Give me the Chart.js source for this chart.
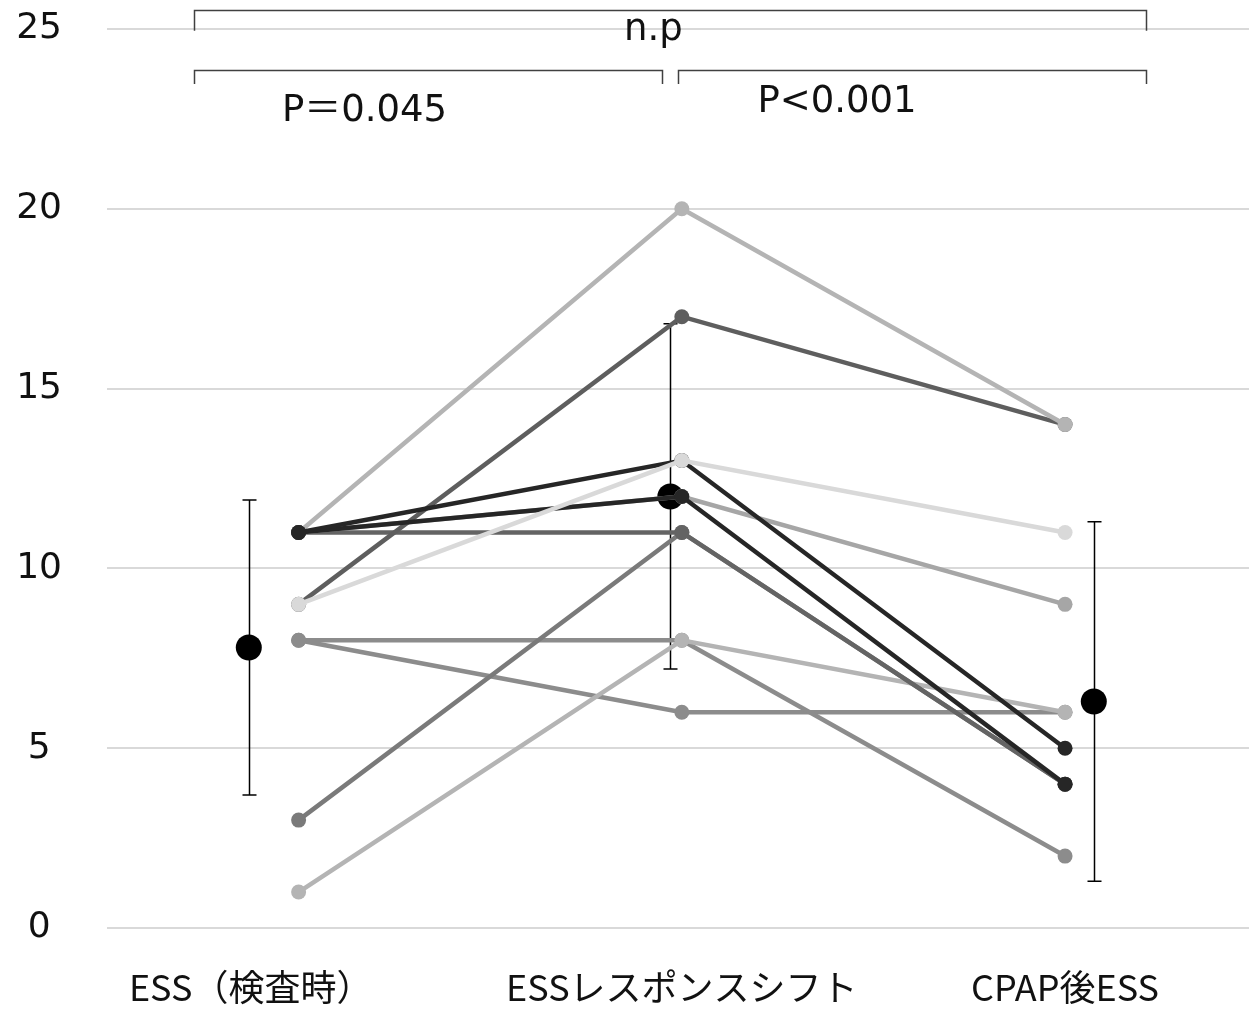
<!DOCTYPE html>
<html lang="ja">
<head>
<meta charset="utf-8">
<script src="https://cdn.jsdelivr.net/npm/chart.js@4.4.1/dist/chart.umd.min.js"></script>
<style>
  html, body { margin:0; padding:0; background:#fff; overflow:hidden; }
  canvas { display:block; }
</style>
</head>
<body>
<canvas id="c" width="1249" height="1017"></canvas>
<script>
// ── data ───────────────────────────────────────────────────
const categories = ['ESS（検査時）', 'ESSレスポンスシフト', 'CPAP後ESS'];
const yTicks = [0, 5, 10, 15, 20, 25];

// one array per patient: [検査時, レスポンスシフト, CPAP後]
const ptA = [11, 20, 14];
const ptB = [9, 17, 14];
const ptC = [11, 13, 5];
const ptD = [9, 13, 11];
const ptE = [11, 12, 4];
const ptF = [11, 11, 4];
const ptG = [3, 11, 4];
const ptH = [8, 8, 2];
const ptI = [8, 6, 6];
const ptJ = [1, 8, 6];
const ptK = [11, 12, 9];

// mean ± SD per column
const meanVals = [7.8, 12.0, 6.3];
const sdVals   = [4.1, 4.8, 5.0];

const pLabels = ['n.p', 'P＝0.045', 'P<0.001'];

// ── styling ────────────────────────────────────────────────
const FONT = "'Noto Sans CJK JP', 'Noto Sans', sans-serif";
const NUM_FONT = "'DejaVu Sans', 'Noto Sans CJK JP', sans-serif";
const TEXT = '#111';

// drawn bottom → top
const patients = [
  { v: ptI, color: '#8c8c8c' },
  { v: ptH, color: '#8c8c8c' },
  { v: ptJ, color: '#b4b4b4' },
  { v: ptG, color: '#7a7a7a' },
  { v: ptF, color: '#646464' },
  { v: ptK, color: '#a6a6a6' },
  { v: ptB, color: '#5e5e5e' },
  { v: ptA, color: '#b4b4b4' },
  { v: ptE, color: '#262626' },
  { v: ptC, color: '#262626' },
  { v: ptD, color: '#d9d9d9' },
];

// means sit a little beside each column
const MEAN_X = [-0.13, 0.97, 2.075];
const CAP = 7;
// where the category captions are centred (first one sits left of its column)
const LABEL_X = [-0.125, 1.0, 2.0];

// significance brackets (x in column units, y in score units)
const BRACKETS = [
  { x0: -0.274, x1: 2.211, y: 25.53, y2: 24.95 },
  { x0: -0.274, x1: 0.949, y: 23.86, y2: 23.47 },
  { x0: 0.991,  x1: 2.211, y: 23.86, y2: 23.47 },
];
const NOTES = [
  { text: pLabels[0], x: 0.926, y: 24.95 },
  { text: pLabels[1], x: 0.172, y: 22.72 },
  { text: pLabels[2], x: 1.405, y: 22.97 },
];

// ── datasets ───────────────────────────────────────────────
const N = patients.length;
const datasets = patients.map((p, i) => ({
  data: p.v.map((val, k) => ({ x: k, y: val })),
  borderColor: p.color,
  backgroundColor: p.color,
  pointBackgroundColor: p.color,
  pointBorderWidth: 0,
  pointRadius: 7.5,
  borderWidth: 4.5,
  tension: 0,
  showLine: true,
  order: N - i + 1,
}));
datasets.push({
  data: meanVals.map((m, i) => ({ x: MEAN_X[i], y: m })),
  showLine: false,
  pointRadius: 13,
  pointBorderWidth: 0,
  pointBackgroundColor: '#000',
  backgroundColor: '#000',
  order: N + 5,
});

// ── extras: error bars, brackets, p-values ─────────────────
const overlay = {
  id: 'overlay',
  beforeDatasetsDraw(chart) {
    const { ctx, scales: { x, y } } = chart;
    ctx.save();
    ctx.strokeStyle = '#000';
    ctx.lineWidth = 1.5;
    meanVals.forEach((m, i) => {
      const px = Math.round(x.getPixelForValue(MEAN_X[i])) + 0.5;
      const top = y.getPixelForValue(m + sdVals[i]);
      const bot = y.getPixelForValue(m - sdVals[i]);
      ctx.beginPath();
      ctx.moveTo(px, top); ctx.lineTo(px, bot);
      ctx.moveTo(px - CAP, top); ctx.lineTo(px + CAP, top);
      ctx.moveTo(px - CAP, bot); ctx.lineTo(px + CAP, bot);
      ctx.stroke();
    });
    ctx.restore();
  },
  afterDraw(chart) {
    const { ctx, scales: { x, y } } = chart;
    ctx.save();
    ctx.strokeStyle = '#404040';
    ctx.lineWidth = 1.5;
    BRACKETS.forEach(b => {
      const l = Math.round(x.getPixelForValue(b.x0)) + 0.5;
      const r = Math.round(x.getPixelForValue(b.x1)) + 0.5;
      const t = Math.round(y.getPixelForValue(b.y)) + 0.5;
      const d = y.getPixelForValue(b.y2);
      ctx.beginPath();
      ctx.moveTo(l, d); ctx.lineTo(l, t); ctx.lineTo(r, t); ctx.lineTo(r, d);
      ctx.stroke();
    });
    ctx.fillStyle = TEXT;
    ctx.font = `37px ${NUM_FONT}`;
    ctx.textAlign = 'center';
    ctx.textBaseline = 'middle';
    NOTES.forEach(n => ctx.fillText(n.text, x.getPixelForValue(n.x), y.getPixelForValue(n.y)));
    ctx.restore();
  }
};

new Chart(document.getElementById('c'), {
  type: 'scatter',
  data: { datasets },
  plugins: [overlay],
  options: {
    responsive: false,
    animation: false,
    devicePixelRatio: 1,
    layout: { autoPadding: false, padding: { top: 29, left: 0, right: 0, bottom: 0 } },
    plugins: { legend: { display: false }, tooltip: { enabled: false } },
    scales: {
      x: {
        type: 'linear', min: -0.5, max: 2.48,
        grid: { display: false }, border: { display: false },
        afterBuildTicks: s => { s.ticks = LABEL_X.map(v => ({ value: v })); },
        afterFit: s => { s.height = 89; s.paddingLeft = 0; s.paddingRight = 0; },
        ticks: {
          callback: (v, i) => categories[i] ?? '',
          font: { family: FONT, size: 36 }, color: TEXT,
          padding: 30, maxRotation: 0, autoSkip: false
        }
      },
      y: {
        min: 0, max: 25,
        afterBuildTicks: s => { s.ticks = yTicks.map(v => ({ value: v })); },
        afterFit: s => { s.width = 107; s.paddingTop = 0; s.paddingBottom = 0; },
        grid: { color: '#d9d9d9', lineWidth: 2, drawTicks: false },
        border: { display: false },
        ticks: { font: { family: NUM_FONT, size: 36 }, color: TEXT, crossAlign: 'center', padding: 45 }
      }
    }
  }
});
</script>
</body>
</html>
